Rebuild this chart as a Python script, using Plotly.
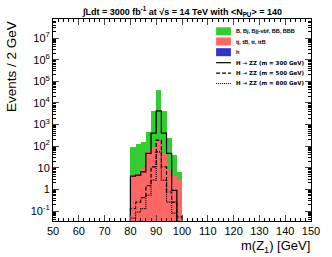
import plotly.graph_objects as go

# ---------------- data ----------------
bin_centers = [81, 83, 85, 87, 89, 91, 93, 95, 97, 99]
bin_edges = [80, 82, 84, 86, 88, 90, 92, 94, 96, 98, 100]
bkg_B = [88, 118, 153, 402, 4280, 41500, 4320, 220, 34, 3.7]      # B, Bj, Bjj-vbf, BB, BBB
bkg_t = [4.8, 5.5, 9.3, 55, 93, 214, 48, 8.7, 4.1, 2.8]            # tj, tB, tt, ttB
bkg_h = [0, 0, 0, 0, 0.01, 0.02, 0.01, 0, 0, 0]                    # h
sig_300 = [4.1, 4.6, 6.5, 46, 400, 4300, 400, 46, 0.9, 0]
sig_500 = [0.13, 0.26, 0.42, 1.5, 11, 190, 11, 0.76, 0.26, 0.054]
sig_800 = [0.047, 0.09, 0.13, 0.54, 2.7, 55, 2.7, 0.26, 0.08, 0]

y_tickvals = [0.1, 1, 10, 100, 1e3, 1e4, 1e5, 1e6, 1e7]
y_ticktext = ["10<sup>-1</sup>", "1", "10", "10<sup>2</sup>", "10<sup>3</sup>",
              "10<sup>4</sup>", "10<sup>5</sup>", "10<sup>6</sup>", "10<sup>7</sup>"]

legend_labels = ["B, Bj, Bjj-vbf, BB, BBB", "tj, tB, tt, ttB", "h",
                 "H \u2192 ZZ (m = 300 GeV)", "H \u2192 ZZ (m = 500 GeV)",
                 "H \u2192 ZZ (m = 800 GeV)"]

GREEN = "rgb(51,204,51)"
RED = "rgb(255,102,102)"
BLUE = "rgb(51,51,204)"

W, H = 332, 257
L, R, T, B = 53, 314, 19, 221
FLOOR = 1e-6

def px(x):
    return (x - L) / (R - L)

def py(y):
    return (B - y) / (B - T)

fig = go.Figure()
for vals, col in [(bkg_h, BLUE), (bkg_t, RED), (bkg_B, GREEN)]:
    fig.add_trace(go.Bar(x=bin_centers, y=vals, width=2, marker=dict(color=col, line=dict(width=0)),
                         showlegend=False))

def step(vals):
    xs = [bin_edges[0]]
    ys = [FLOOR]
    for i, v in enumerate(vals):
        vv = v if v > 0 else FLOOR
        xs += [bin_edges[i], bin_edges[i + 1]]
        ys += [vv, vv]
    xs.append(bin_edges[-1])
    ys.append(FLOOR)
    return xs, ys

for vals, dash in [(sig_300, "solid"), (sig_500, "4px,2px"), (sig_800, "1px,1px")]:
    xs, ys = step(vals)
    fig.add_trace(go.Scatter(x=xs, y=ys, mode="lines", line=dict(color="black", width=1.2, dash=dash),
                             showlegend=False))

font = "Liberation Sans, Arial, sans-serif"
fig.update_layout(
    width=W, height=H, barmode="stack", bargap=0,
    margin=dict(l=L, r=W - R, t=T, b=H - B, pad=0),
    paper_bgcolor="white", plot_bgcolor="white",
    font=dict(family=font, size=11, color="black"),
    showlegend=False,
)
fig.update_xaxes(range=[50, 150], dtick=10, tick0=50, ticks="inside", ticklen=6, tickwidth=1,
                 showline=True, linecolor="black", linewidth=1, mirror="allticks",
                 showgrid=False, zeroline=False, tickfont=dict(size=11),
                 minor=dict(dtick=2, ticks="inside", ticklen=3, tickcolor="black", showgrid=False))
fig.update_yaxes(type="log", range=[-1.46, 7.88], tickmode="array", tickvals=y_tickvals,
                 ticktext=y_ticktext, ticks="inside", ticklen=6, tickwidth=1,
                 showline=True, linecolor="black", linewidth=1, mirror="allticks",
                 showgrid=False, zeroline=False, tickfont=dict(size=11),
                 minor=dict(ticks="inside", ticklen=3, tickcolor="black", showgrid=False, dtick="D1"))

ann = []
ann.append(dict(text="<b>\u222bLdt = 3000 fb<sup>-1</sup> at \u221as = 14 TeV with &lt;N<sub>PU</sub>&gt; = 140</b>",
                x=px(184), y=py(12), xref="paper", yref="paper", showarrow=False,
                font=dict(size=9, family=font), xanchor="center", yanchor="middle"))
ann.append(dict(text="Events / 2 GeV", x=px(11), y=py(19), xref="paper", yref="paper",
                showarrow=False, textangle=-90, font=dict(size=13.5, family=font),
                xanchor="center", yanchor="top"))
ann.append(dict(text="m(Z<sub>1</sub>) [GeV]", x=px(315), y=py(236), xref="paper", yref="paper",
                showarrow=False, font=dict(size=13, family=font), xanchor="right", yanchor="top"))

shapes = []
box_rows = [(31.3, GREEN), (41.5, RED), (52.2, BLUE)]
lfont = "DejaVu Sans, Liberation Sans, sans-serif"
for (yc, col), lab in zip(box_rows, legend_labels[:3]):
    shapes.append(dict(type="rect", xref="paper", yref="paper", x0=px(218), x1=px(233),
                       y0=py(yc - 4), y1=py(yc + 4), fillcolor=col, line=dict(width=0)))
    ann.append(dict(text="<b>" + lab + "</b>", x=px(236.5), y=py(yc), xref="paper", yref="paper",
                    showarrow=False, font=dict(size=5.5, family=font), xanchor="left", yanchor="middle"))
line_rows = [(62.7, "solid"), (73.2, "4px,2px"), (83.5, "1px,1px")]
for (yc, dash), lab in zip(line_rows, legend_labels[3:]):
    shapes.append(dict(type="line", xref="paper", yref="paper", x0=px(218), x1=px(233),
                       y0=py(yc), y1=py(yc), line=dict(color="black", width=1.2, dash=dash)))
    ann.append(dict(text="<b>" + lab + "</b>", x=px(236.5), y=py(yc), xref="paper", yref="paper",
                    showarrow=False, font=dict(size=5.5, family=lfont), xanchor="left", yanchor="middle"))

fig.update_layout(annotations=ann, shapes=shapes)
fig.write_html("out.html", config={"displayModeBar": False},
               post_script="document.body.style.margin='0';document.body.style.padding='0';")
